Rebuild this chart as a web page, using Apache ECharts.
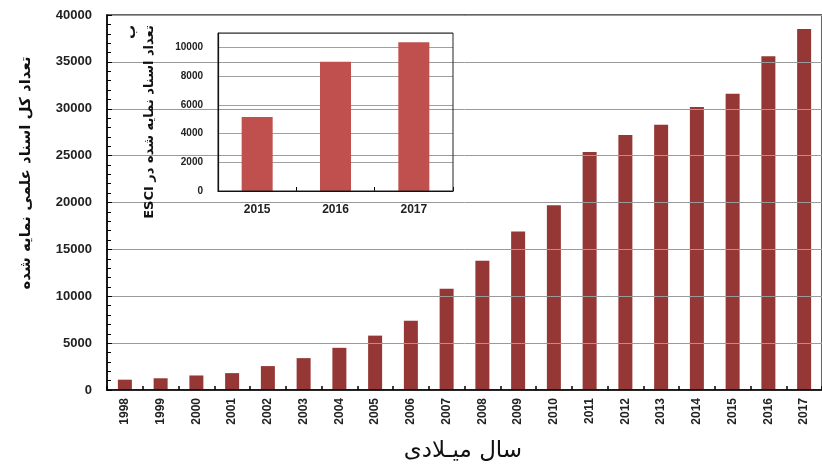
<!DOCTYPE html>
<html>
<head>
<meta charset="utf-8">
<script src="https://cdn.jsdelivr.net/npm/echarts@6/dist/echarts.min.js"></script>
<style>
html,body{margin:0;padding:0;background:#fff;}
#chart{width:822px;height:466px;}
</style>
</head>
<body>
<div id="chart"></div>
<script>
// ---- data ----
const years = ['1998','1999','2000','2001','2002','2003','2004','2005','2006','2007','2008','2009','2010','2011','2012','2013','2014','2015','2016','2017'];
const totalDocs = [1100,1250,1550,1800,2550,3400,4500,5800,7400,10800,13800,16900,19700,25400,27200,28300,30200,31600,35600,38500];
const insetYears = ['2015','2016','2017'];
const esciDocs = [5150,9000,10350];
const mainYTitle = 'تعداد کل اسناد علمی نمایه شده';
const mainXTitle = 'سال میـلادی';
const insetYTitle = 'تعداد اسناد نمایه شده در ESCI';
const panelLabel = 'ب';

const numFont = 'Liberation Sans';
const arFont = 'DejaVu Sans';
const rtl = s => '\u202B' + s + '\u202C';

const chart = echarts.init(document.getElementById('chart'), null, {renderer:'canvas'});
const option = {
  animation:false,
  backgroundColor:'#fff',
  grid:[
    {left:107, top:15, width:724, height:375, show:true, borderColor:'#333', borderWidth:1.5, backgroundColor:'transparent', z:2},
    {left:218, top:33, width:235, height:158, show:true, borderColor:'#222', borderWidth:1, backgroundColor:'transparent', z:9}
  ],
  xAxis:[
    {type:'category', gridIndex:0, data:years, boundaryGap:true, z:3,
     axisLine:{lineStyle:{color:'#000', width:1.5}},
     axisTick:{show:true, inside:true, length:4, lineStyle:{color:'#000', width:1.5}},
     axisLabel:{rotate:90, interval:0, fontWeight:'bold', fontSize:12, color:'#222', margin:8, fontFamily:numFont}},
    {type:'category', gridIndex:1, data:insetYears, boundaryGap:true, z:7,
     axisLine:{lineStyle:{color:'#000', width:1.2}},
     axisTick:{show:true, inside:true, length:4, lineStyle:{color:'#000'}},
     axisLabel:{interval:0, fontWeight:'bold', fontSize:12, color:'#222', margin:13, fontFamily:numFont}}
  ],
  yAxis:[
    {type:'value', gridIndex:0, min:0, max:40000, interval:5000, z:3,
     axisLine:{show:true, lineStyle:{color:'#000', width:1.5}},
     axisTick:{show:true, inside:true, length:5, lineStyle:{color:'#000'}},
     minorTick:{show:true, splitNumber:5, length:4, lineStyle:{color:'#000'}},
     splitLine:{show:true, lineStyle:{color:'#9a9a9a', width:1}},
     axisLabel:{fontWeight:'bold', fontSize:13, color:'#222', margin:15, fontFamily:numFont, formatter:v=>String(v)}},
    {type:'value', gridIndex:1, min:0, max:11000, interval:2000, z:7,
     axisLine:{show:true, lineStyle:{color:'#000', width:1.2}},
     axisTick:{show:false},
     splitLine:{show:true, lineStyle:{color:'#a0a0a0', width:1}},
     axisLabel:{fontWeight:'bold', fontSize:10, color:'#222', margin:15, fontFamily:numFont, showMaxLabel:false,
       formatter:v=> v>10000 ? '' : String(v)}}
  ],
  series:[
    {type:'bar', xAxisIndex:0, yAxisIndex:0, data:totalDocs, barWidth:14, z:2,
     itemStyle:{color:'#953735'}},
    {type:'bar', xAxisIndex:1, yAxisIndex:1, data:esciDocs, barWidth:31, z:8,
     itemStyle:{color:'#C0504D'}}
  ],
  graphic:[
    {type:'rect', z:1, shape:{x:135, y:16, width:323, height:209}, style:{fill:'#fff'}},
    {type:'text', z:10, x:26, y:173, rotation:Math.PI/2,
     style:{text:rtl(mainYTitle), font:'bold 15px "'+arFont+'"', fill:'#111', textAlign:'center', textVerticalAlign:'middle'}},
    {type:'text', z:10, x:463, y:451,
     style:{text:rtl(mainXTitle), font:'23px "'+arFont+'"', fill:'#111', textAlign:'center', textVerticalAlign:'middle'}},
    {type:'text', z:10, x:150, y:122, rotation:Math.PI/2,
     style:{text:rtl(insetYTitle), font:'bold 13px "'+arFont+'"', fill:'#111', textAlign:'center', textVerticalAlign:'middle'}},
    {type:'text', z:10, x:131, y:32, rotation:Math.PI/2,
     style:{text:panelLabel, font:'bold 14px "'+arFont+'"', fill:'#111', textAlign:'center', textVerticalAlign:'middle'}}
  ]
};
chart.setOption(option);
</script>
</body>
</html>
